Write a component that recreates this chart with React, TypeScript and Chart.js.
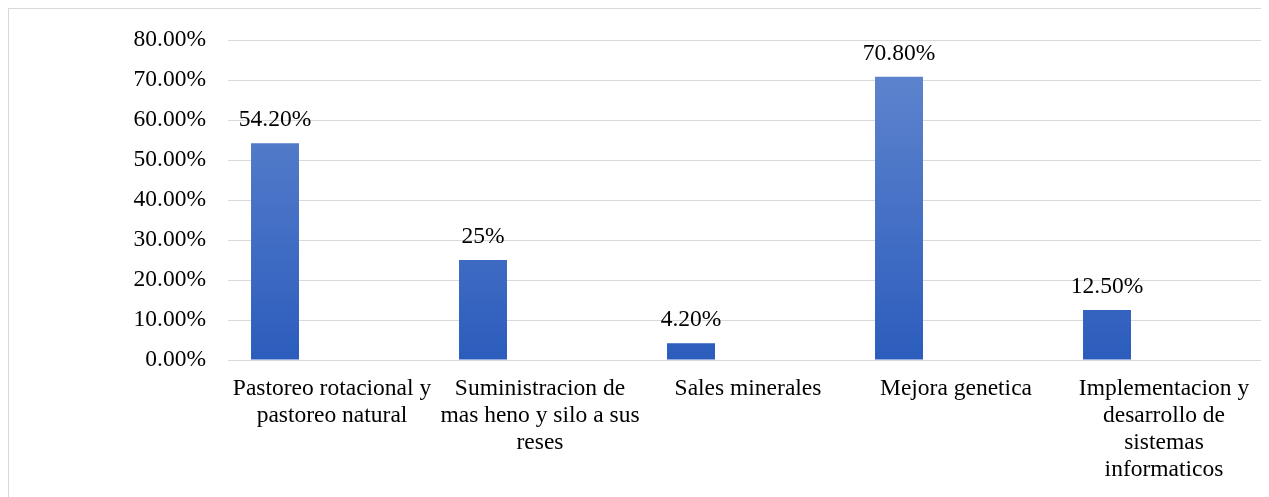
import React, { useEffect, useRef } from "react";
import { Chart, registerables } from "chart.js";

Chart.register(...registerables);

const categories: string[][] = [
  ["Pastoreo rotacional y", "pastoreo natural"],
  ["Suministracion de", "mas heno y silo a sus", "reses"],
  ["Sales minerales"],
  ["Mejora genetica"],
  ["Implementacion y", "desarrollo de", "sistemas", "informaticos"],
];
const values: number[] = [0.542, 0.25, 0.042, 0.708, 0.125];
const valueLabels: string[] = ["54.20%", "25%", "4.20%", "70.80%", "12.50%"];
const emptySeries: (number | null)[] = [null, null, null, null, null];

const FONT = '"Liberation Serif", "Times New Roman", serif';
const FS = 23.5;
const CAT_PCT = 0.822;
const BAR_PCT = 0.842;

export default function App() {
  const ref = useRef<HTMLCanvasElement | null>(null);

  useEffect(() => {
    document.documentElement.style.overflow = "hidden";
    document.body.style.overflow = "hidden";
    let chart: any = null;
    let cancelled = false;
    const labelPlugin = {
      id: "valueLabels",
      afterDatasetsDraw(c: any) {
        const ctx = c.ctx;
        const meta = c.getDatasetMeta(0);
        ctx.save();
        ctx.font = `${FS}px ${FONT}`;
        ctx.fillStyle = "#000";
        ctx.textAlign = "center";
        ctx.textBaseline = "alphabetic";
        meta.data.forEach((el: any, i: number) => {
          ctx.fillText(valueLabels[i], el.x, el.y - 17);
        });
        ctx.restore();
      },
    };
    const build = () => {
      if (cancelled || !ref.current) return;
      chart = new Chart(ref.current, {
        type: "bar",
        data: {
          labels: categories as any,
          datasets: [
            {
              data: values,
              backgroundColor: (c: any) => {
                const area = c.chart.chartArea;
                if (!area) return "#4472c4";
                const g = c.chart.ctx.createLinearGradient(0, area.top, 0, area.bottom);
                g.addColorStop(0, "#6388cf");
                g.addColorStop(1, "#2c5dbd");
                return g;
              },
              borderWidth: 0,
              categoryPercentage: CAT_PCT,
              barPercentage: BAR_PCT,
            },
            { data: emptySeries, categoryPercentage: CAT_PCT, barPercentage: BAR_PCT },
            { data: emptySeries, categoryPercentage: CAT_PCT, barPercentage: BAR_PCT },
          ],
        },
        options: {
          animation: false,
          responsive: false,
          maintainAspectRatio: false,
          layout: { padding: { top: 31, right: 0, left: 0, bottom: 0 } },
          plugins: { legend: { display: false }, tooltip: { enabled: false } },
          scales: {
            y: {
              min: 0,
              max: 0.8,
              ticks: {
                stepSize: 0.1,
                padding: 22,
                color: "#000",
                font: { family: FONT, size: FS },
                callback: (v: any) => (Number(v) * 100).toFixed(2) + "%",
              },
              grid: { color: "#d9d9d9", drawTicks: false, lineWidth: 1 },
              border: { display: false },
              afterFit: (s: any) => {
                s.width = 219;
                s.paddingTop = 0;
                s.paddingBottom = 0;
              },
            },
            x: {
              ticks: {
                padding: 15,
                color: "#000",
                maxRotation: 0,
                autoSkip: false,
                font: { family: FONT, size: FS, lineHeight: 27 / FS },
              },
              grid: { display: false, drawTicks: false },
              border: { display: true, color: "#d9d9d9", width: 1 },
              afterFit: (s: any) => {
                s.height = 137;
                s.paddingLeft = 0;
                s.paddingRight = 0;
              },
            },
          },
        },
        plugins: [labelPlugin],
      });
    };
    const fontsApi: any = (document as any).fonts;
    if (fontsApi && fontsApi.load) {
      fontsApi.load(`${FS}px "Liberation Serif"`).then(build, build);
    } else {
      build();
    }
    return () => {
      cancelled = true;
      if (chart) chart.destroy();
    };
  }, []);

  return (
    <div
      style={{
        width: 1259,
        height: 500,
        border: "1px solid #d9d9d9",
        background: "#fff",
        overflow: "hidden",
      }}
    >
      <canvas ref={ref} width={1259} height={488} style={{ display: "block" }} />
    </div>
  );
}
